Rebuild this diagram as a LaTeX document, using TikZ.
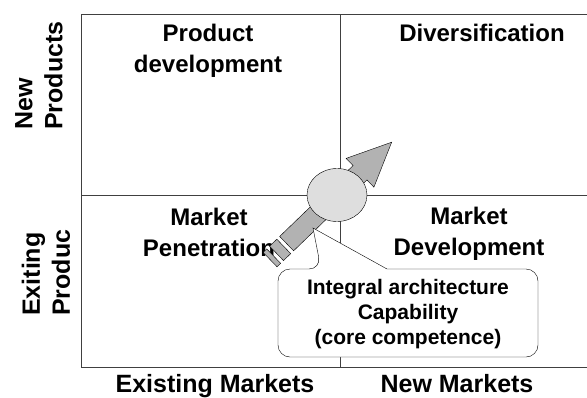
\documentclass[tikz,border=0pt]{standalone}
\usepackage{fontspec}
\setmainfont{Liberation Sans}
\usetikzlibrary{shapes.geometric,positioning}

\begin{document}
\begin{tikzpicture}[x=1pt, y=-1pt,
   quad/.style={font=\fontsize{24}{31}\selectfont\bfseries, align=center, inner sep=0pt},
   axis/.style={font=\fontsize{25}{30}\selectfont\bfseries, align=left, inner sep=0pt},
   note/.style={font=\fontsize{21}{25}\selectfont\bfseries, align=center, inner sep=0pt},
   grid/.style={draw=black!75, line width=0.8pt},
   hub/.style={ellipse, draw, thin, fill=black!13, minimum width=60pt, minimum height=53pt, inner sep=0pt},
   stripe/.style={draw, thin, fill=black!30},
   callout/.style={draw, thin, fill=white}]
  \useasboundingbox (0,0) rectangle (587,397);

  % matrix
  \draw[grid] (81,14) -- (587,14) (81,195) -- (587,195) (81,367) -- (587,367);
  \draw[grid] (81,14) -- (81,367) (340,14) -- (340,367);

  \node[quad] (pd)  at (208,51)  {Product\\development};
  \node[quad] (div) at (482,33)  {Diversification};
  \node[quad] (mp)  at (209,232) {Market\\Penetration};
  \node[quad] (md)  at (469,234) {Market\\Development};

  \node[axis, anchor=base] (em) at (215,392) {Existing Markets};
  \node[axis, anchor=base] (nm) at (457,392) {New Markets};
  \node[axis, rotate=90, anchor=west] (np) at (39,130) {New\\Products};
  \node[axis, rotate=90, anchor=west] (ep) at (46,316) {Exiting\\Produc};

  % striped arrow
  \begin{scope}[shift={(337,195)}, rotate=44]
    \draw[stripe] (-70,-10) -- (32,-10) -- (32,-20) -- (76,0) -- (32,20) -- (32,10) -- (-70,10) -- cycle;
    \draw[stripe] (-74,-10) rectangle (-84,10);
    \draw[stripe] (-88,-10) rectangle (-93,10);
  \end{scope}
  \node[hub] (hub) at (337,195) {};

  % callout
  \draw[callout] (321,269) -- (313,228) -- (387,269) [rounded corners=12pt] -- (538,269)
     -- (538,357) -- (278,357) -- (278,269) -- cycle;
  \node[note] (cap) at (408,314) {Integral architecture\\Capability\\(core competence)};
\end{tikzpicture}
\end{document}
